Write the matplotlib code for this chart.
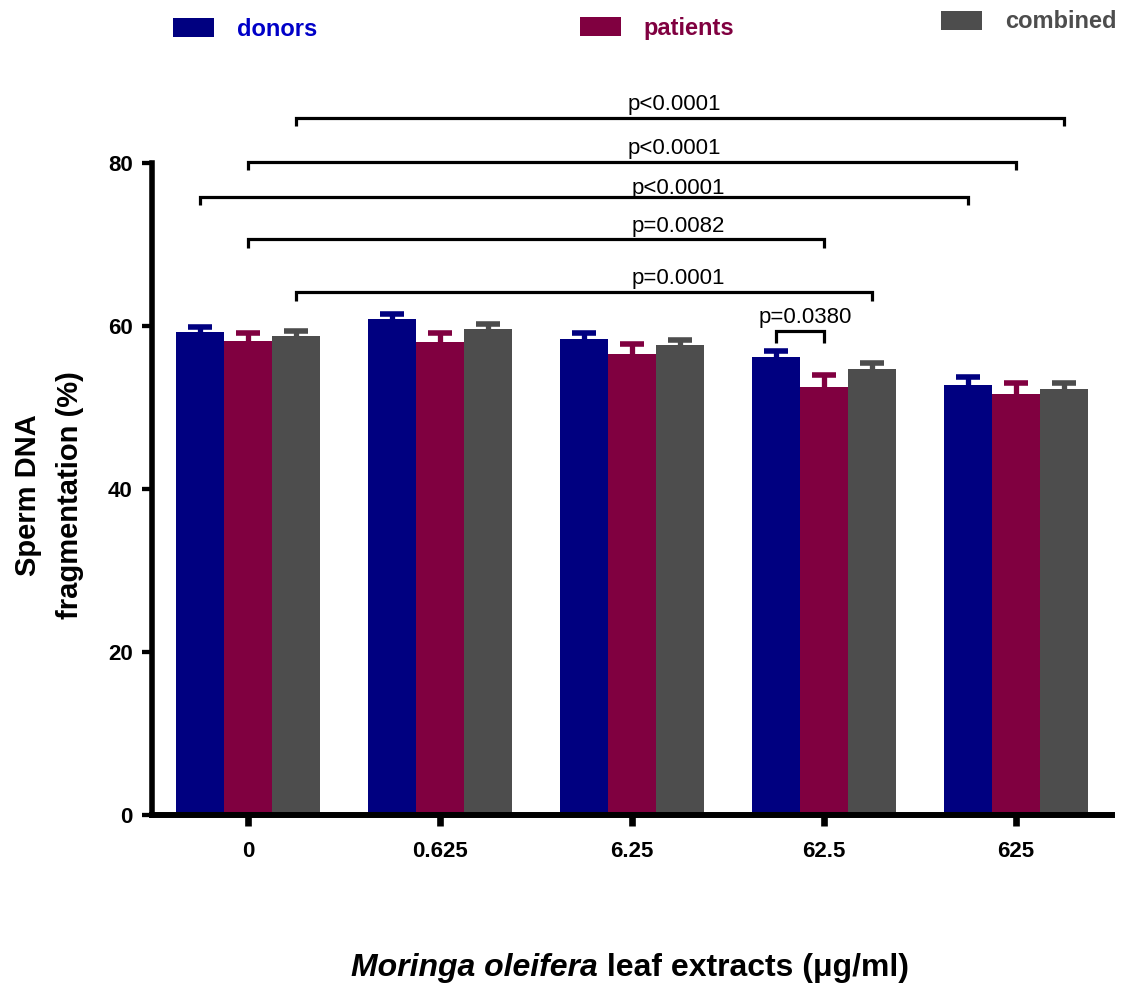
import numpy as np
import matplotlib
matplotlib.use("Agg")
import matplotlib.pyplot as plt
from matplotlib.patches import Patch
from matplotlib.offsetbox import TextArea, HPacker, AnchoredOffsetbox

plt.rcParams['font.family'] = ['Liberation Sans', 'DejaVu Sans']

# ---- data ----
concentrations = ["0", "0.625", "6.25", "62.5", "625"]
series_names = ["donors", "patients", "combined"]
donors_mean = [59.2, 60.8, 58.4, 56.2, 52.7]
donors_err = [0.65, 0.7, 0.7, 0.73, 0.97]
patients_mean = [58.1, 58.0, 56.5, 52.5, 51.6]
patients_err = [1.0, 1.1, 1.3, 1.47, 1.4]
combined_mean = [58.75, 59.6, 57.65, 54.7, 52.25]
combined_err = [0.6, 0.6, 0.6, 0.7, 0.77]

# comparisons: (group_a, series_a, group_b, series_b, label)
cmp_group_a = [0, 0, 0, 0, 0, 3]
cmp_series_a = [2, 1, 0, 1, 2, 0]
cmp_group_b = [4, 4, 4, 3, 3, 3]
cmp_series_b = [2, 1, 0, 1, 2, 1]
cmp_labels = ["p<0.0001", "p<0.0001", "p<0.0001", "p=0.0082", "p=0.0001", "p=0.0380"]

# ---- style ----
colors = ["#000080", "#800040", "#4d4d4d"]
text_colors = ["#0000c8", "#800040", "#4d4d4d"]
bar_w = 0.25
bracket_levels = [85.5, 80.1, 75.8, 70.6, 64.2, 59.4]
bracket_drop = [1.0, 1.0, 1.0, 1.1, 1.2, 1.5]
label_x = [2.22, 2.22, 2.24, 2.24, 2.24, 2.90]
label_gap = [5.4, 5.4, 2.2, 5.4, 5.4, 5.4]

fig = plt.figure(figsize=(11.37, 9.84), dpi=100)
ax = fig.add_axes([0.1337, 0.1717, 0.978 - 0.1337, 0.8347 - 0.1717])

x = np.arange(len(concentrations))
means = [donors_mean, patients_mean, combined_mean]
errs = [donors_err, patients_err, combined_err]
for i, (m, e, c) in enumerate(zip(means, errs, colors)):
    xi = x + (i - 1) * bar_w
    ax.bar(xi, m, width=bar_w, color=c, edgecolor='none', zorder=2)
    m_arr = np.array(m)
    eb = ax.errorbar(xi, m_arr, yerr=[np.zeros_like(m_arr), np.array(e)], fmt='none',
                     ecolor=c, elinewidth=3.8, capsize=8.3, capthick=4, zorder=3)
    for cl in eb[1]:
        if np.allclose(cl.get_ydata(), m_arr):
            cl.set_visible(False)

# brackets
for k in range(len(cmp_labels)):
    xa = cmp_group_a[k] + (cmp_series_a[k] - 1) * bar_w
    xb = cmp_group_b[k] + (cmp_series_b[k] - 1) * bar_w
    yl = bracket_levels[k]
    d = bracket_drop[k]
    ax.plot([xa, xa, xb, xb], [yl - d, yl, yl, yl - d], color='black', lw=2.3,
            solid_joinstyle='miter', solid_capstyle='butt', clip_on=False, zorder=4)
    ax.annotate(cmp_labels[k], xy=(label_x[k], yl), xytext=(0, label_gap[k]),
                textcoords='offset points', ha='center', va='baseline',
                fontsize=16, color='black', annotation_clip=False)

ax.set_xlim(-0.5, 4.5)
ax.set_ylim(0, 80)
ax.set_yticks([0, 20, 40, 60, 80])
ax.set_xticks(x)
ax.set_xticklabels(concentrations)
for s in ['top', 'right']:
    ax.spines[s].set_visible(False)
ax.spines['left'].set_linewidth(4)
ax.spines['bottom'].set_linewidth(4.3)
ax.spines['left'].set_capstyle('projecting')
ax.spines['bottom'].set_capstyle('projecting')
ax.tick_params(axis='y', direction='out', length=7.5, width=3.1, pad=6.5,
               labelsize=16)
ax.tick_params(axis='x', direction='out', length=8, width=4.8, pad=11,
               labelsize=16)
for lbl in ax.get_xticklabels() + ax.get_yticklabels():
    lbl.set_fontweight('bold')

# y label
fig.text(49 / 1137, 1 - 495 / 984, "Sperm DNA\nfragmentation (%)", rotation=90,
         ha='center', va='center', multialignment='center', fontsize=21,
         fontweight='bold', linespacing=1.65)

# x label
ta1 = TextArea("Moringa oleifera", textprops=dict(fontsize=23, fontweight='bold', style='italic'))
ta2 = TextArea(" leaf extracts (μg/ml)", textprops=dict(fontsize=23, fontweight='bold'))
box = HPacker(children=[ta1, ta2], align='baseline', pad=0, sep=0)
anch = AnchoredOffsetbox(loc='center', child=box, pad=0, borderpad=0, frameon=False,
                         bbox_to_anchor=(630 / 1137, 1 - 968 / 984),
                         bbox_transform=fig.transFigure)
fig.add_artist(anch)

# legends
leg_pos = [(173, 29), (580, 28), (941, 22)]
for name, c, tc, (px, py) in zip(series_names, colors, text_colors, leg_pos):
    lg = fig.legend(handles=[Patch(facecolor=c, edgecolor='none')], labels=[name],
                    loc='center left', bbox_to_anchor=(px / 1137, 1 - py / 984),
                    bbox_transform=fig.transFigure, frameon=False, borderpad=0,
                    borderaxespad=0, handlelength=1.75, handleheight=0.9,
                    handletextpad=0.95, prop=dict(size=17, weight='bold'))
    for t in lg.get_texts():
        t.set_color(tc)

fig.savefig("out.png", dpi=100)
